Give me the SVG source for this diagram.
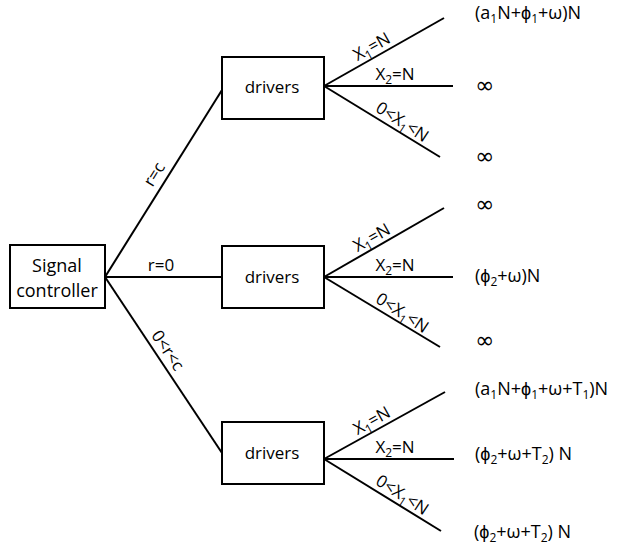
<svg xmlns="http://www.w3.org/2000/svg" width="619" height="548" viewBox="0 0 619 548">
<style>
text{font-family:"Open Sans","Liberation Sans",sans-serif;font-size:17px;fill:#000}
.box{fill:#fff;stroke:#000;stroke-width:2}
.ln{stroke:#000;stroke-width:2;fill:none}
.m{text-anchor:middle}
.s{font-size:12px}
.inf{font-family:"DejaVu Sans",sans-serif;font-size:23px}
.sc{font-size:18px}
.o{font-size:18px}
</style>
<rect width="619" height="548" fill="#fff"/>
<g id="connectors">
<line class="ln" x1="105" y1="277" x2="222" y2="90"/>
<line class="ln" x1="105" y1="277" x2="222" y2="277"/>
<line class="ln" x1="105" y1="277" x2="222" y2="453"/>
<line class="ln" x1="324" y1="86" x2="444" y2="18"/>
<line class="ln" x1="324" y1="86" x2="453" y2="86"/>
<line class="ln" x1="324" y1="86" x2="440" y2="157"/>
<line class="ln" x1="324" y1="277" x2="444" y2="208"/>
<line class="ln" x1="324" y1="277" x2="453" y2="277"/>
<line class="ln" x1="324" y1="277" x2="440" y2="347"/>
<line class="ln" x1="324" y1="459" x2="445" y2="392"/>
<line class="ln" x1="324" y1="459" x2="454" y2="459"/>
<line class="ln" x1="324" y1="459" x2="441" y2="531"/>
<text class="m" transform="translate(165,181) rotate(-58)" y="-7">r=c</text>
<text class="m" x="161" y="271">r=0</text>
<text class="m" transform="translate(158,357) rotate(56.4)" y="-6">0&lt;r&lt;c</text>
<g id="b1labels">
<text class="m" transform="translate(377,56) rotate(-29.7)" y="-5">X<tspan class="s" dy="4">1</tspan><tspan dy="-4">=N</tspan></text>
<text class="m" x="395" y="80">X<tspan class="s" dy="4">2</tspan><tspan dy="-4">=N</tspan></text>
<text class="m" transform="translate(397,130) rotate(33)" y="-4">0&lt;X<tspan class="s" dy="4">1</tspan><tspan dy="-4">&lt;N</tspan></text>
</g>
<g id="b2labels">
<text class="m" transform="translate(377,247) rotate(-29.7)" y="-5">X<tspan class="s" dy="4">1</tspan><tspan dy="-4">=N</tspan></text>
<text class="m" x="395" y="271">X<tspan class="s" dy="4">2</tspan><tspan dy="-4">=N</tspan></text>
<text class="m" transform="translate(397,321) rotate(33)" y="-4">0&lt;X<tspan class="s" dy="4">1</tspan><tspan dy="-4">&lt;N</tspan></text>
</g>
<g id="b3labels">
<text class="m" transform="translate(377,430) rotate(-29.2)" y="-5">X<tspan class="s" dy="4">1</tspan><tspan dy="-4">=N</tspan></text>
<text class="m" x="395" y="453">X<tspan class="s" dy="4">2</tspan><tspan dy="-4">=N</tspan></text>
<text class="m" transform="translate(397,503) rotate(33)" y="-4">0&lt;X<tspan class="s" dy="4">1</tspan><tspan dy="-4">&lt;N</tspan></text>
</g>
</g>
<g id="signal-controller">
<rect class="box" x="10" y="245" width="95" height="63"/>
<text class="m sc" x="57" y="272">Signal</text>
<text class="m sc" x="57" y="297">controller</text>
</g>
<g id="drivers1">
<rect class="box" x="222" y="57" width="102" height="62"/>
<text class="m" x="272" y="93">drivers</text>
</g>
<g id="drivers2">
<rect class="box" x="222" y="246" width="102" height="62"/>
<text class="m" x="272" y="283">drivers</text>
</g>
<g id="drivers3">
<rect class="box" x="222" y="422" width="102" height="62"/>
<text class="m" x="272" y="459">drivers</text>
</g>
<g id="outcomes">
<text class="o" x="475" y="19">(a<tspan class="s" dy="4">1</tspan><tspan dy="-4">N+ϕ</tspan><tspan class="s" dy="4">1</tspan><tspan dy="-4">+ω)N</tspan></text>
<text class="inf" x="475" y="93">∞</text>
<text class="inf" x="475" y="164">∞</text>
<text class="inf" x="475" y="212">∞</text>
<text class="o" x="475" y="282">(ϕ<tspan class="s" dy="4">2</tspan><tspan dy="-4">+ω)N</tspan></text>
<text class="inf" x="475" y="348">∞</text>
<text class="o" x="475" y="395">(a<tspan class="s" dy="4">1</tspan><tspan dy="-4">N+ϕ</tspan><tspan class="s" dy="4">1</tspan><tspan dy="-4">+ω+T</tspan><tspan class="s" dy="4">1</tspan><tspan dy="-4">)N</tspan></text>
<text class="o" x="475" y="460">(ϕ<tspan class="s" dy="4">2</tspan><tspan dy="-4">+ω+T</tspan><tspan class="s" dy="4">2</tspan><tspan dy="-4">) N</tspan></text>
<text class="o" x="474" y="538">(ϕ<tspan class="s" dy="4">2</tspan><tspan dy="-4">+ω+T</tspan><tspan class="s" dy="4">2</tspan><tspan dy="-4">) N</tspan></text>
</g>
</svg>
